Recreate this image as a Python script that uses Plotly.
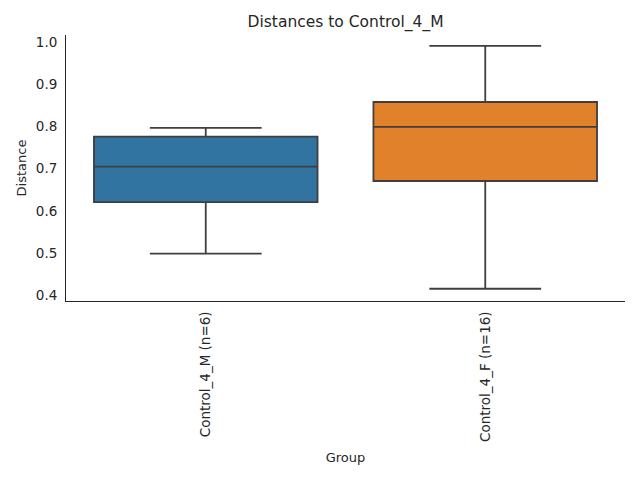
import plotly.graph_objects as go

# group labels and box statistics
groups = ["Control_4_M (n=6)", "Control_4_F (n=16)"]
q1 = [0.621, 0.671]
median = [0.705, 0.799]
q3 = [0.776, 0.858]
lower = [0.499, 0.416]
upper = [0.797, 0.991]
colors = ["#3274a1", "#e1812c"]

fig = go.Figure()
for i, g in enumerate(groups):
    fig.add_trace(go.Box(
        x=[g], q1=[q1[i]], median=[median[i]], q3=[q3[i]],
        lowerfence=[lower[i]], upperfence=[upper[i]],
        fillcolor=colors[i],
        line=dict(color="#3f3f3f", width=1.8),
        width=0.8, whiskerwidth=0.5,
        boxpoints=False, hoverinfo="skip", name=g,
    ))

font = "DejaVu Sans, sans-serif"
txt = "#262626"
fig.update_layout(
    width=640, height=480,
    margin=dict(l=66, r=15, t=35, b=179),
    plot_bgcolor="white", paper_bgcolor="white",
    showlegend=False, boxmode="overlay",
    font=dict(family=font, size=13, color=txt),
    title=dict(text="Distances to Control_4_M", x=0.5, xref="paper",
               y=1 - 22 / 480, yanchor="middle", font=dict(size=15.5, color=txt)),
)
fig.update_xaxes(
    type="category", range=[-0.5, 1.5], tickangle=-90, automargin=False,
    showline=True, linecolor=txt, linewidth=1, showgrid=False,
    ticks="outside", ticklen=4, tickcolor="rgba(0,0,0,0)",
    tickfont=dict(size=13.5, color=txt),
    title=dict(text="Group", standoff=11, font=dict(size=13, color=txt)),
)
fig.update_yaxes(
    range=[0.387, 1.0166], tickvals=[0.4, 0.5, 0.6, 0.7, 0.8, 0.9, 1.0],
    ticktext=["0.4", "0.5", "0.6", "0.7", "0.8", "0.9", "1.0"], automargin=False,
    showline=True, linecolor=txt, linewidth=1, showgrid=False, zeroline=False,
    ticks="outside", ticklen=5, tickcolor="rgba(0,0,0,0)",
    tickfont=dict(size=13.5, color=txt),
    title=dict(text="Distance", standoff=6, font=dict(size=13, color=txt)),
)

# drop the page's default body margin so the figure sits at the window corner
fig.write_html("out.html", config={"displayModeBar": False},
               post_script="document.body.style.margin='0';")
